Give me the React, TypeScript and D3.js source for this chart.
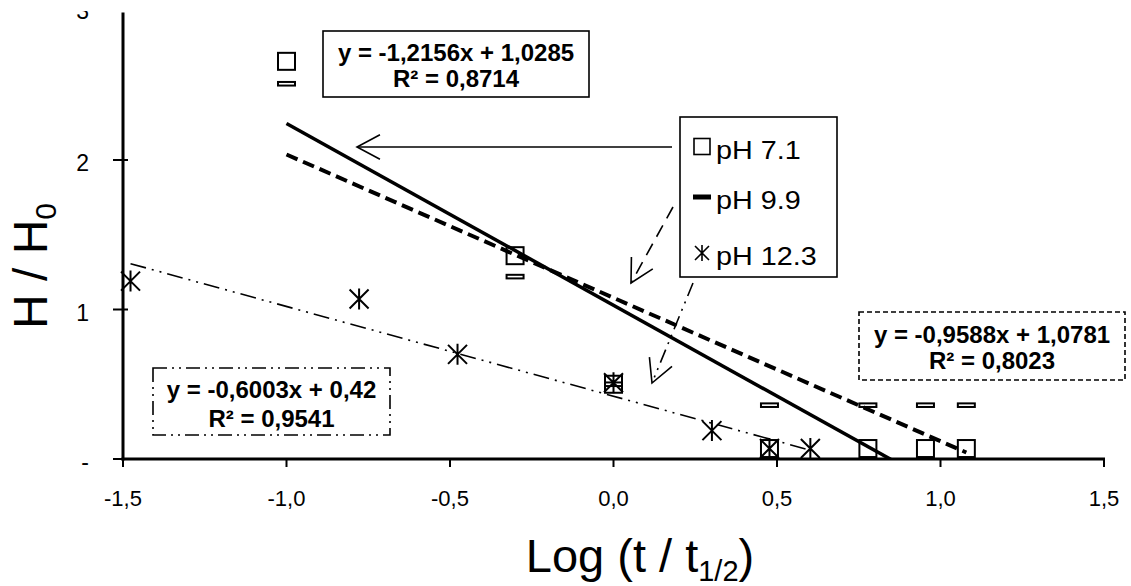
import React from 'react';
import * as d3 from 'd3';

// measured points, x = log(t / t1/2), y = H / H0
const xPh71 = [-1.0, -0.301, 0.0, 0.477, 0.778, 0.954, 1.079];
const yPh71 = [2.66, 1.36, 0.5, 0.07, 0.07, 0.07, 0.07];
const xPh99 = [-1.0, -0.301, 0.0, 0.477, 0.778, 0.954, 1.079];
const yPh99 = [2.51, 1.22, 0.5, 0.36, 0.36, 0.36, 0.36];
const xPh123 = [-1.477, -0.778, -0.477, 0.0, 0.301, 0.477, 0.602];
const yPh123 = [1.19, 1.07, 0.7, 0.51, 0.19, 0.07, 0.07];

// linear trendlines as printed on the chart
const trendSlopes = [-1.2156, -0.9588, -0.6003];
const trendIntercepts = [1.0285, 1.0781, 0.42];
const trendEquations = ['y = -1,2156x + 1,0285', 'y = -0,9588x + 1,0781', 'y = -0,6003x + 0,42'];
const trendR2 = ['R² = 0,8714', 'R² = 0,8023', 'R² = 0,9541'];

const legendLabels = ['pH 7.1', 'pH 9.9', 'pH 12.3'];
const xTicks = [-1.5, -1.0, -0.5, 0.0, 0.5, 1.0, 1.5];
const xTickLabels = ['-1,5', '-1,0', '-0,5', '0,0', '0,5', '1,0', '1,5'];
const yTicks = [0, 1, 2, 3];
const yTickLabels = ['-', '1', '2', '3'];

const W = 1131;
const H = 586;
const FONT = '"Liberation Sans", Arial, sans-serif';

const x = d3.scaleLinear().domain([-1.5, 1.5]).range([123, 1104]);
const y = d3.scaleLinear().domain([0, 3]).range([459, 10.5]);

const line = d3.line<[number, number]>().x((d) => x(d[0])).y((d) => y(d[1]));

const Square = ({ cx, cy, s = 17 }: { cx: number; cy: number; s?: number }) => (
  <rect x={cx - s / 2} y={cy - s / 2} width={s} height={s} fill="none" stroke="#000" strokeWidth={2} />
);

const Dash = ({ cx, cy }: { cx: number; cy: number }) => (
  <rect x={cx - 8.5} y={cy - 1.8} width={17} height={3.6} fill="none" stroke="#000" strokeWidth={2} />
);

const Star = ({ cx, cy, r = 9.5, w = 2 }: { cx: number; cy: number; r?: number; w?: number }) => (
  <path
    d={`M${cx - r},${cy - r}L${cx + r},${cy + r}M${cx - r},${cy + r}L${cx + r},${cy - r}M${cx},${cy - r - 1}L${cx},${cy + r + 1}`}
    stroke="#000"
    strokeWidth={w}
    fill="none"
  />
);

// open arrow head (two strokes) at the tip, pointing away from (fx, fy)
const arrowHead = (fx: number, fy: number, tx: number, ty: number, len = 26, ang = 28) => {
  const back = Math.atan2(fy - ty, fx - tx);
  const a = (ang * Math.PI) / 180;
  const p1 = [tx + len * Math.cos(back + a), ty + len * Math.sin(back + a)];
  const p2 = [tx + len * Math.cos(back - a), ty + len * Math.sin(back - a)];
  return `M${p1[0]},${p1[1]}L${tx},${ty}L${p2[0]},${p2[1]}`;
};

const App = () => {
  const trendStyles = [
    { strokeWidth: 3.5, dash: undefined },
    { strokeWidth: 4, dash: '12 6' },
    { strokeWidth: 1.6, dash: '16 6 2 6 2 6' },
  ];
  const trendRanges = [
    d3.extent(xPh71) as [number, number],
    d3.extent(xPh99) as [number, number],
    d3.extent(xPh123) as [number, number],
  ];

  const ph71 = xPh71.map((v, i) => [v, yPh71[i]]);
  const ph99 = xPh99.map((v, i) => [v, yPh99[i]]);
  const ph123 = xPh123.map((v, i) => [v, yPh123[i]]);

  // equation boxes
  const boxes = [
    { l: 323, t: 31, r: 589, b: 97, b1: 61, b2: 87, dash: undefined },
    { l: 859, t: 312, r: 1125, b: 380, b1: 343, b2: 369, dash: '5 3' },
    { l: 153, t: 368, r: 390, b: 435, b1: 398, b2: 427, dash: '14 5 2 5 2 5' },
  ];

  const legRows = [146.5, 197, 253];

  return (
    <svg width={W} height={H} style={{ position: 'absolute', left: 0, top: 0, background: '#fff' }} fontFamily={FONT}>
      <defs>
        <clipPath id="plot">
          <rect x={x(-1.5)} y={y(3)} width={x(1.5) - x(-1.5)} height={y(0) - y(3)} />
        </clipPath>
        <clipPath id="topcut">
          <rect x={0} y={11} width={120} height={40} />
        </clipPath>
      </defs>
      <rect width={W} height={H} fill="#fff" />

      {/* trendlines */}
      <g clipPath="url(#plot)" fill="none" stroke="#000">
        {trendSlopes.map((m, i) => {
          const [x0, x1] = trendRanges[i];
          const pts: [number, number][] = [
            [x0, m * x0 + trendIntercepts[i]],
            [x1, m * x1 + trendIntercepts[i]],
          ];
          return (
            <path key={i} d={line(pts) || ''} strokeWidth={trendStyles[i].strokeWidth} strokeDasharray={trendStyles[i].dash} />
          );
        })}
      </g>

      {/* markers */}
      {ph123.map((d, i) => <Star key={'s' + i} cx={x(d[0])} cy={y(d[1])} />)}
      {ph99.map((d, i) => <Dash key={'d' + i} cx={x(d[0])} cy={y(d[1])} />)}
      {ph71.map((d, i) => <Square key={'q' + i} cx={x(d[0])} cy={y(d[1])} />)}

      {/* axes */}
      <line x1={x(-1.5)} x2={x(-1.5)} y1={y(0) + 1.5} y2={y(3) + 2} stroke="#000" strokeWidth={3} />
      <line x1={x(-1.5) - 1.5} x2={x(1.5) + 1} y1={y(0)} y2={y(0)} stroke="#000" strokeWidth={3} />
      {xTicks.map((t, i) => (
        <g key={'xt' + i}>
          <line x1={x(t)} x2={x(t)} y1={y(0)} y2={y(0) + 8} stroke="#000" strokeWidth={2} />
          <text x={x(t)} y={506} fontSize={22} textAnchor="middle">
            {xTickLabels[i]}
          </text>
        </g>
      ))}
      {yTicks.map((t, i) => (
        <g key={'yt' + i} clipPath={t === 3 ? 'url(#topcut)' : undefined}>
          {t < 3 && <line x1={x(-1.5) - 10} x2={x(-1.5) + 5} y1={y(t)} y2={y(t)} stroke="#000" strokeWidth={2} />}
          <text x={89} y={t === 3 ? 19 : y(t) + 11} fontSize={23} textAnchor="end">
            {yTickLabels[i]}
          </text>
        </g>
      ))}

      {/* axis titles */}
      <text transform="translate(47,266) rotate(-90)" fontSize={48} textAnchor="middle">
        H / H<tspan fontSize={30} dy={9}>0</tspan>
      </text>
      <text x={640} y={572} fontSize={47} textAnchor="middle">
        Log (t / t<tspan fontSize={29} dy={9}>1/2</tspan>
        <tspan dy={-9}>)</tspan>
      </text>

      {/* equation boxes */}
      {boxes.map((b, i) => (
        <g key={'box' + i}>
          <rect x={b.l} y={b.t} width={b.r - b.l} height={b.b - b.t} fill="#fff" stroke="#000" strokeWidth={1.6} strokeDasharray={b.dash} />
          <text x={(b.l + b.r) / 2} y={b.b1} fontSize={24} fontWeight="bold" textAnchor="middle">
            {trendEquations[i]}
          </text>
          <text x={(b.l + b.r) / 2} y={b.b2} fontSize={24} fontWeight="bold" textAnchor="middle">
            {trendR2[i]}
          </text>
        </g>
      ))}

      {/* legend */}
      <rect x={680} y={117} width={157} height={160} fill="#fff" stroke="#000" strokeWidth={1.6} />
      <rect x={694} y={138.5} width={16} height={16} fill="none" stroke="#000" strokeWidth={1.6} />
      <rect x={693} y={194.5} width={18} height={5} fill="#000" />
      <Star cx={702} cy={253} r={7} w={1.6} />
      {legendLabels.map((l, i) => (
        <text key={'lg' + i} transform={`translate(716,${legRows[i] + 12}) scale(1.15,1)`} fontSize={25}>
          {l}
        </text>
      ))}

      {/* arrows from legend to trendlines */}
      <g fill="none" stroke="#000" strokeWidth={1.6}>
        <line x1={672} y1={147} x2={357} y2={147} />
        <path d={arrowHead(672, 147, 357, 147)} />
        <line x1={673} y1={207} x2={631} y2={283} strokeDasharray="13 8" />
        <path d={arrowHead(673, 207, 631, 283)} />
        <line x1={693} y1={283} x2={652} y2={383} strokeDasharray="14 6 2 6 2 6" />
        <path d={arrowHead(693, 283, 652, 383)} />
      </g>
    </svg>
  );
};

export default App;
